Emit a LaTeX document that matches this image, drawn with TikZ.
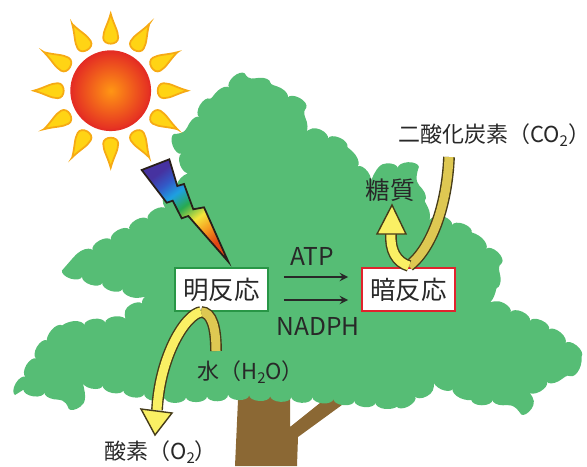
\documentclass[tikz,border=0pt]{standalone}
\usepackage{fontspec}
\newfontfamily\jpfont{Noto Sans CJK JP}
\usetikzlibrary{decorations.pathmorphing,positioning}

\definecolor{leafgreen}{RGB}{86,189,117}
\definecolor{barkbrown}{RGB}{139,104,52}
\definecolor{sunorange}{RGB}{255,150,20}
\definecolor{sunred}{RGB}{228,45,35}
\definecolor{rayyellow}{RGB}{255,212,20}
\definecolor{rayedge}{RGB}{246,170,20}
\definecolor{bandlight}{RGB}{250,240,100}
\definecolor{banddark}{RGB}{222,200,82}
\definecolor{bandedge}{RGB}{70,60,25}
\definecolor{boxgreen}{RGB}{40,150,70}
\definecolor{boxred}{RGB}{225,35,45}
\definecolor{inkgray}{RGB}{40,40,40}
\definecolor{boltred}{RGB}{225,70,20}
\definecolor{boltorange}{RGB}{245,150,30}
\definecolor{boltyellow}{RGB}{245,230,60}
\definecolor{boltgreen}{RGB}{40,170,80}
\definecolor{boltcyan}{RGB}{30,160,225}
\definecolor{boltblue}{RGB}{50,90,200}
\definecolor{boltviolet}{RGB}{70,50,160}
\definecolor{boltedge}{RGB}{40,30,25}

% 闪电的彩虹渐变 (0bp 为尖端)
\pgfdeclareverticalshading{boltshade}{100bp}{color(0bp)=(boltred); color(27bp)=(boltred); color(35bp)=(boltorange); color(43bp)=(boltyellow); color(52bp)=(boltgreen); color(60bp)=(boltcyan); color(67bp)=(boltblue); color(74bp)=(boltviolet); color(100bp)=(boltviolet)}

\newcommand\chemsub[1]{\raisebox{-0.35ex}{\fontsize{8.5}{9}\selectfont #1}}

\begin{document}
\begin{tikzpicture}[x=0.02cm, y=-0.02cm, >=stealth,
    reaction/.style={draw, line width=1.1pt, fill=white, minimum width=1.86cm,
        minimum height=0.86cm, inner sep=0pt, text=inkgray,
        font=\jpfont\fontsize{14.5}{17}\selectfont},
    chem/.style={inner sep=0pt, text=inkgray, font=\jpfont\fontsize{14}{16}\selectfont},
    chemsmall/.style={chem, font=\jpfont\fontsize{12.5}{15}\selectfont},
    flow/.style={->, line width=1.1pt, draw=inkgray, shorten <=0.3cm, shorten >=0.26cm},
    band/.style={draw=bandedge, line width=0.8pt, double distance=0.18cm},
    bandhead/.style={fill=bandlight, draw=bandedge, line width=0.8pt, line join=miter},
    sunray/.style={fill=rayyellow, draw=rayedge, line width=1pt}]
    \useasboundingbox (0,0) rectangle (587,466);

    % 1. 树干 (先画, 被树冠遮住上半部分)
    \fill[barkbrown] (235,466) -- (238,400) -- (268,385) -- (290,395) -- (290,427)
        -- (330,395) -- (346,402) -- (298,437) -- (297,466) -- cycle;

    % 2. 树冠: 折线 + bumps 装饰得到波浪边缘
    \fill[leafgreen, decorate, decoration={bumps, segment length=24pt, amplitude=3pt}]
        (15,395) -- (40,352) -- (60,328) -- (112,322) -- (152,298) -- (80,276)
        -- (72,262) -- (150,218) -- (190,176) -- (180,150) -- (202,112) -- (232,85)
        -- (260,83) -- (296,102) -- (303,128) -- (341,144) -- (360,170) -- (398,168)
        -- (418,192) -- (425,215) -- (465,230) -- (492,254) -- (496,283) -- (486,300)
        -- (510,312) -- (548,329) -- (580,355) -- (575,366) -- (541,385) -- (531,400)
        -- (477,400) -- (440,383) -- (400,405) -- (333,399) -- (290,397) -- (243,395)
        -- (167,398) -- (133,392) -- (100,385) -- (83,398) -- (33,391) -- cycle;

    % 3. 太阳: 12 条光芒 + 渐变圆
    \coordinate (sun) at (110.7,90.7);
    \begin{scope}[shift={(sun)}]
        \foreach \a in {0,30,...,330}
            \filldraw[sunray, rotate=\a] (77,0) .. controls (66,3) and (60,7.5) .. (53,7.5)
                .. controls (45,7.5) and (45,-7.5) .. (53,-7.5)
                .. controls (60,-7.5) and (66,-3) .. cycle;
        \shadedraw[inner color=sunorange, outer color=sunred, draw=sunred, line width=1pt]
            (0,0) circle (39.5);
    \end{scope}

    % 4. 闪电
    \shadedraw[shading=boltshade, shading angle=37, draw=boltedge, line width=1pt, line join=miter]
        (141.7,170) -- (169.3,159.3) -- (177.3,186) -- (184,184) -- (193.3,209.3)
        -- (204,207.3) -- (228.3,261.7) -- (188.3,216) -- (181.7,218.3)
        -- (172.7,200.7) -- (166.7,202.7) -- cycle;

    % 5. 两个反应框
    \node[reaction, draw=boxgreen] (light) at (221.5,289.5) {明反応};
    \node[reaction, draw=boxred] (dark) at (408.5,289.5) {暗反応};

    % 6. ATP / NADPH 的传递箭头
    \draw[flow] ([yshift=0.25cm]light.east) -- ([yshift=0.25cm]dark.west);
    \draw[flow] ([yshift=-0.21cm]light.east) -- ([yshift=-0.21cm]dark.west);
    \node[chem] (atp) at (312,256) {ATP};
    \node[chem] (nadph) at (318,326) {NADPH};

    % 7. 物质名称
    \node[chemsmall, anchor=west] (water) at (197,372) {水（H\chemsub{2}O）};
    \node[chemsmall, anchor=west] (oxygen) at (104,452) {酸素（O\chemsub{2}）};
    \node[chem] (sugar) at (390,190) {糖質};
    \node[chemsmall, anchor=west] (co2) at (398,135) {二酸化炭素（CO\chemsub{2}）};

    % 8. 明反应: 水进入, 氧气放出
    \coordinate (waterend) at (216,351);
    \coordinate (lightapex) at (201,312);
    \coordinate (o2base) at (157,410);
    \draw[band, double=banddark] (waterend) .. controls (216,328) and (212,312) .. (lightapex);
    \draw[band, double=bandlight] (lightapex) .. controls (186,314) and (160,355) .. (o2base);
    \filldraw[bandhead] (141,409) -- (155,435) -- (172,413) -- cycle;

    % 9. 暗反应: 二氧化碳进入, 糖質生成
    \coordinate (co2end) at (449,157);
    \coordinate (darkapex) at (409,266);
    \coordinate (sugarbase) at (391,234);
    \draw[band, double=banddark] (co2end) .. controls (447,205) and (432,248) .. (darkapex);
    \draw[band, double=bandlight] (darkapex) .. controls (396,262) and (390,250) .. (sugarbase);
    \filldraw[bandhead] (377,234) -- (392,205) -- (406,234) -- cycle;
\end{tikzpicture}
\end{document}
